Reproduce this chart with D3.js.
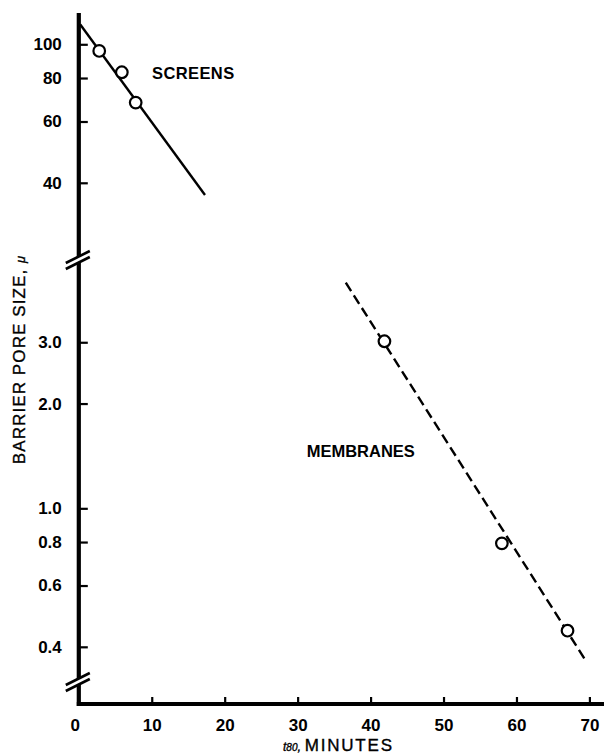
<!DOCTYPE html>
<html>
<head>
<meta charset="utf-8">
<script src="https://cdn.jsdelivr.net/npm/d3@7"></script>
<style>
  html, body { margin: 0; padding: 0; background: #fff; }
  svg { display: block; }
  .tick text { font-family: "Liberation Sans Narrow", "Liberation Sans", Arial, sans-serif; font-weight: bold; font-size: 17px; fill: #000; }
</style>
</head>
<body>
<svg id="chart" width="604" height="755"></svg>
<script>
// ---- data ----
const xTicks = [0, 10, 20, 30, 40, 50, 60, 70];
const upperTicks = [100, 80, 60, 40];
const upperTickLabels = ["100", "80", "60", "40"];
const lowerTicks = [3, 2, 1, 0.8, 0.6, 0.4];
const lowerTickLabels = ["3.0", "2.0", "1.0", "0.8", "0.6", "0.4"];

// Screens (upper panel, microns)
const screensT = [2.8, 5.9, 7.8];
const screensSize = [95.7, 83.1, 68.0];
const screensFitT = [0.2, 17.3];
const screensFitSize = [114, 36.9];

// Membranes (lower panel, microns)
const membranesT = [41.9, 58.0, 67.0];
const membranesSize = [3.02, 0.793, 0.445];
const membranesFitT = [36.6, 69.6];
const membranesFitSize = [4.45, 0.362];

// ---- layout ----
const svg = d3.select("#chart");
const x0 = 78.8, xEnd = 604;
const yTop = 13, yBreak1 = 260, yBreak2 = 682, yBottom = 704;

const x = d3.scaleLinear().domain([0, 72]).range([x0, xEnd]);
const yUp = d3.scaleLog().domain([24.0, 123.0]).range([yBreak1, yTop]);
const yLow = d3.scaleLog().domain([0.274, 5.17]).range([yBottom, yBreak1]);

const ink = "#000";

// y axis ticks (upper)
const axUp = d3.axisLeft(yUp).tickValues(upperTicks)
  .tickFormat((d, i) => upperTickLabels[i]).tickSizeInner(-9).tickSizeOuter(0).tickPadding(17);
const gUp = svg.append("g").attr("transform", `translate(${x0},0)`).call(axUp);
gUp.select(".domain").remove();
gUp.selectAll(".tick line").attr("stroke", ink).attr("stroke-width", 2.2);

// y axis ticks (lower)
const axLow = d3.axisLeft(yLow).tickValues(lowerTicks)
  .tickFormat((d, i) => lowerTickLabels[i]).tickSizeInner(-9).tickSizeOuter(0).tickPadding(17);
const gLow = svg.append("g").attr("transform", `translate(${x0},0)`).call(axLow);
gLow.select(".domain").remove();
gLow.selectAll(".tick line").attr("stroke", ink).attr("stroke-width", 2.2);

// x axis
const axX = d3.axisBottom(x).tickValues(xTicks).tickFormat(d3.format("d"))
  .tickSizeInner(-7).tickSizeOuter(0).tickPadding(14.6);
const gX = svg.append("g").attr("transform", `translate(0,${yBottom})`).call(axX);
gX.select(".domain").remove();
gX.selectAll(".tick line").attr("stroke", ink).attr("stroke-width", 2.2)
  .filter(d => d === 0).remove();
gX.selectAll(".tick text").filter(d => d === 0).attr("dx", -4);

// axis lines with breaks
const gap = 3;
const segs = [[yTop, yBreak1 - gap], [yBreak1 + gap, yBreak2 - gap], [yBreak2 + gap, yBottom + 2]];
segs.forEach(s => {
  svg.append("line").attr("x1", x0).attr("x2", x0).attr("y1", s[0]).attr("y2", s[1])
    .attr("stroke", ink).attr("stroke-width", 4.2);
});
svg.append("line").attr("x1", x0 - 2).attr("x2", xEnd).attr("y1", yBottom).attr("y2", yBottom)
  .attr("stroke", ink).attr("stroke-width", 4.2);

// break marks
[yBreak1, yBreak2].forEach(yb => {
  [-gap, gap].forEach(off => {
    svg.append("line")
      .attr("x1", x0 - 13).attr("y1", yb + off + 6)
      .attr("x2", x0 + 11).attr("y2", yb + off - 6)
      .attr("stroke", ink).attr("stroke-width", 2.6);
  });
});

// screens fit line (solid)
const lineUp = d3.line().x(d => x(d[0])).y(d => yUp(d[1]));
svg.append("path")
  .datum(screensFitT.map((t, i) => [t, screensFitSize[i]]))
  .attr("d", lineUp).attr("fill", "none").attr("stroke", ink).attr("stroke-width", 2.4);

// membranes fit line (dashed)
const lineLow = d3.line().x(d => x(d[0])).y(d => yLow(d[1]));
svg.append("path")
  .datum(membranesFitT.map((t, i) => [t, membranesFitSize[i]]))
  .attr("d", lineLow).attr("fill", "none").attr("stroke", ink).attr("stroke-width", 2.4)
  .attr("stroke-dasharray", "10,5");

// points
svg.append("g").selectAll("circle")
  .data(screensT.map((t, i) => [t, screensSize[i]]))
  .join("circle")
  .attr("cx", d => x(d[0])).attr("cy", d => yUp(d[1])).attr("r", 5.8)
  .attr("fill", "#fff").attr("stroke", ink).attr("stroke-width", 2.2);

svg.append("g").selectAll("circle")
  .data(membranesT.map((t, i) => [t, membranesSize[i]]))
  .join("circle")
  .attr("cx", d => x(d[0])).attr("cy", d => yLow(d[1])).attr("r", 5.8)
  .attr("fill", "#fff").attr("stroke", ink).attr("stroke-width", 2.2);

// series labels
const labelFont = "'Liberation Sans', Arial, sans-serif";
svg.append("text").attr("x", 152).attr("y", 79.3)
  .attr("font-family", labelFont).attr("font-size", 16.5).attr("font-weight", "bold")
  .attr("letter-spacing", 0.4).attr("fill", ink).text("SCREENS");
svg.append("text").attr("x", 306.7).attr("y", 457.3)
  .attr("font-family", labelFont).attr("font-size", 16.5).attr("font-weight", "bold")
  .attr("fill", ink).text("MEMBRANES");

// x axis title
const xt = svg.append("text").attr("x", 283).attr("y", 750.5)
  .attr("font-family", labelFont).attr("fill", ink)
  .attr("stroke", ink).attr("stroke-width", 0.35);
xt.append("tspan").attr("font-style", "italic").attr("font-size", 12).text("t");
xt.append("tspan").attr("font-style", "italic").attr("font-size", 10).text("80");
xt.append("tspan").attr("font-style", "italic").attr("font-size", 13).text(", ");
xt.append("tspan").attr("font-size", 17).attr("letter-spacing", 1.8).text("MINUTES");

// y axis title
const yt = svg.append("text")
  .attr("transform", "translate(25,360) rotate(-90)")
  .attr("text-anchor", "middle")
  .attr("font-family", labelFont).attr("fill", ink)
  .attr("stroke", ink).attr("stroke-width", 0.35);
yt.append("tspan").attr("font-size", 17).attr("letter-spacing", 1.1).text("BARRIER PORE SIZE, ");
yt.append("tspan").attr("font-size", 13).attr("font-style", "italic").text("\u03bc");
</script>
</body>
</html>
